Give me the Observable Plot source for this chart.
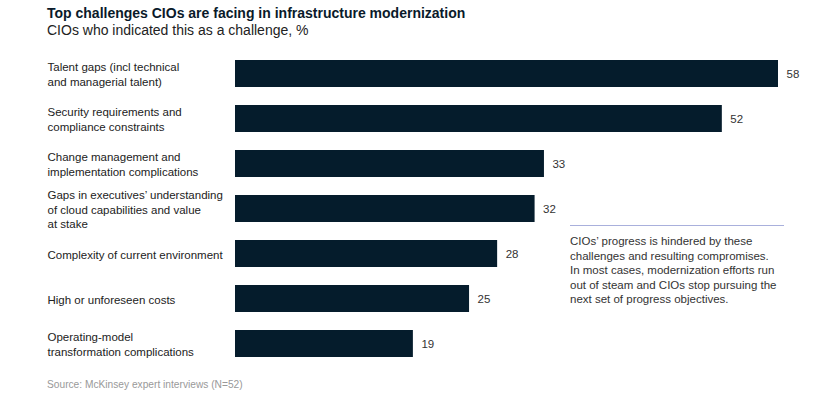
<!DOCTYPE html>
<html>
<head>
<meta charset="utf-8">
<script src="https://cdn.jsdelivr.net/npm/d3@7"></script>
<script src="https://cdn.jsdelivr.net/npm/@observablehq/plot@0.6"></script>
<style>
  body { margin: 0; background: #fff; font-family: "Liberation Sans", Arial, sans-serif; }
  #wrap { position: relative; width: 831px; height: 399px; }
  #title { position: absolute; left: 47px; top: 5px; font-size: 14px; font-weight: bold; color: #0a1a2a; }
  #subtitle { position: absolute; left: 47px; top: 22px; font-size: 14px; color: #222; }
  #chart { position: absolute; left: 0; top: 48px; }
  #source { position: absolute; left: 47px; top: 379px; font-size: 10.2px; color: #999; }
  #note { position: absolute; left: 570px; top: 225px; width: 214px; border-top: 1px solid #a9b0dc; padding-top: 8px; font-size: 11.5px; line-height: 14.5px; color: #333; white-space: nowrap; }
</style>
</head>
<body>
<div id="wrap">
  <div id="title">Top challenges CIOs are facing in infrastructure modernization</div>
  <div id="subtitle">CIOs who indicated this as a challenge, %</div>
  <div id="chart"></div>
  <div id="note">CIOs’ progress is hindered by these<br>challenges and resulting compromises.<br>In most cases, modernization efforts run<br>out of steam and CIOs stop pursuing the<br>next set of progress objectives.</div>
  <div id="source">Source: McKinsey expert interviews (N=52)</div>
</div>
<script>
const categories = [
  "Talent gaps (incl technical\nand managerial talent)",
  "Security requirements and\ncompliance constraints",
  "Change management and\nimplementation complications",
  "Gaps in executives’ understanding\nof cloud capabilities and value\nat stake",
  "Complexity of current environment",
  "High or unforeseen costs",
  "Operating-model\ntransformation complications"
];
const values = [58, 52, 33, 32, 28, 25, 19];

const data = categories.map((c, i) => ({category: c, value: values[i]}));

const chart = Plot.plot({
  width: 831,
  height: 320,
  marginLeft: 235,
  marginRight: 53,
  marginTop: 3,
  marginBottom: 2,
  style: {fontFamily: "'Liberation Sans', Arial, sans-serif", background: "#fff"},
  x: {domain: [0, 58], axis: null},
  y: {domain: categories, axis: null, paddingInner: 0.4, paddingOuter: 0.2},
  marks: [
    Plot.barX(data, {y: "category", x: "value", fill: "#051c2c"}),
    Plot.text(data, {y: "category", x: "value", text: d => String(d.value), textAnchor: "start", dx: 8, fontSize: 11.5, fill: "#333"}),
    Plot.text(data, {y: "category", text: "category", frameAnchor: "left", textAnchor: "start", dx: -188, fontSize: 11.5, lineHeight: 1.25, fill: "#222"})
  ]
});
document.getElementById("chart").appendChild(chart);
</script>
</body>
</html>
